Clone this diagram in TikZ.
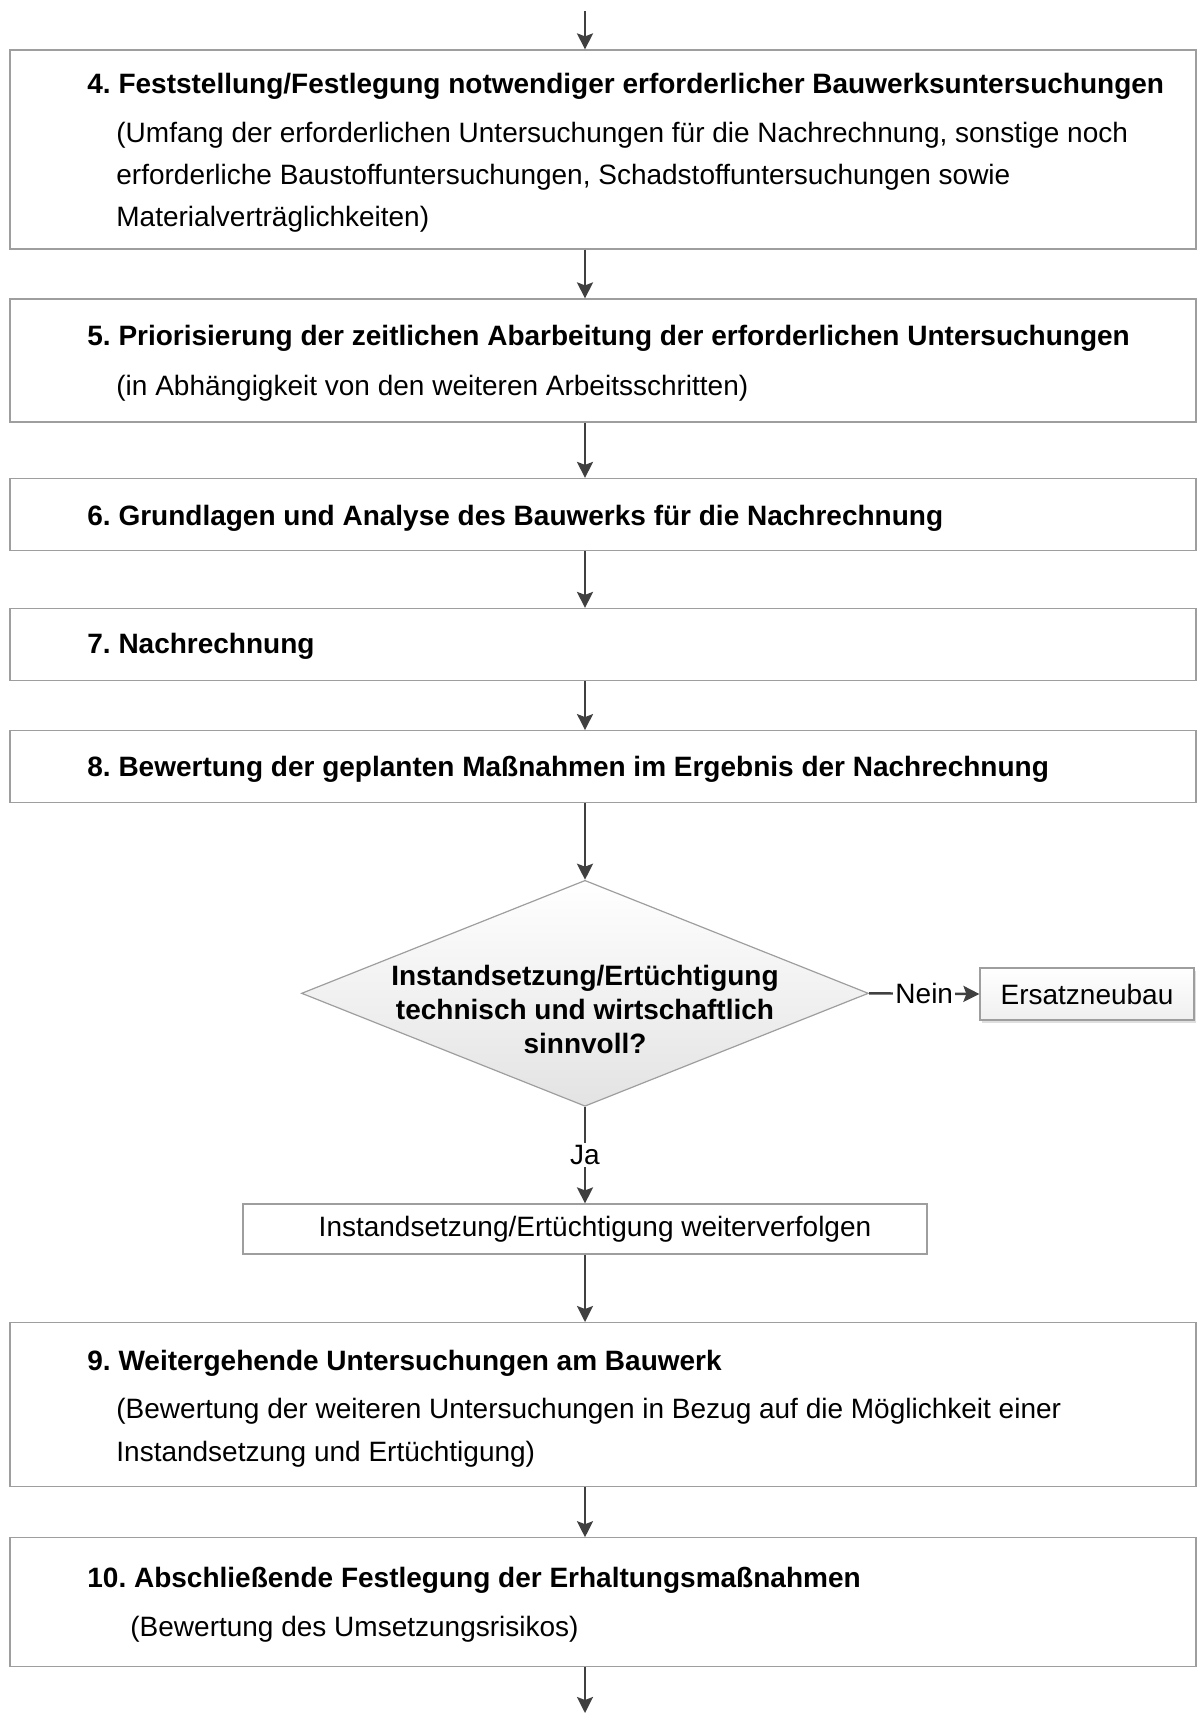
\documentclass[tikz,border=0pt]{standalone}
\usepackage{fontspec}
\setmainfont{Liberation Sans}
\frenchspacing
\usetikzlibrary{arrows.meta,shapes.geometric,shadows}
\definecolor{linegray}{rgb}{0.25,0.25,0.25}
\definecolor{boxgray}{rgb}{0.62,0.62,0.62}
\definecolor{diagray}{rgb}{0.89,0.89,0.89}

\begin{document}
\begin{tikzpicture}[x=0.5pt,y=-0.5pt,
    stepbox/.style={rectangle,draw=boxgray,line width=0.6pt,minimum width=593pt,inner sep=0pt},
    headtext/.style={anchor=base west,inner sep=0pt,font=\fontsize{14}{17}\selectfont\bfseries},
    subtext/.style={anchor=base west,inner sep=0pt,font=\fontsize{14}{17}\selectfont},
    decision/.style={diamond,draw=boxgray,line width=0.6pt,top color=white,bottom color=diagray,
      minimum width=283.5pt,minimum height=113pt,inner sep=0pt},
    endbox/.style={rectangle,draw=boxgray,line width=0.6pt,top color=white,bottom color=gray!12,
      minimum width=107pt,minimum height=26pt,inner sep=0pt,font=\fontsize{14}{17}\selectfont,
      drop shadow={opacity=0.25,shadow xshift=1pt,shadow yshift=-1.5pt}},
    lbl/.style={fill=white,inner sep=1pt,font=\fontsize{14}{17}\selectfont},
    flow/.style={draw=linegray,line width=1.2pt,-{Stealth[length=8pt,width=8pt,inset=1.5pt]}}]
\useasboundingbox (0,0) rectangle (1196,1713);

\coordinate (top) at (585,11);
\coordinate (bottom) at (585,1713);

\node[stepbox,minimum height=99.5pt] (b4) at (603,149.5) {};
\node[headtext] (t4) at (87,93) {4. Feststellung/Festlegung notwendiger erforderlicher Bauwerksuntersuchungen};
\node[subtext] (s4a) at (116,142) {(Umfang der erforderlichen Untersuchungen für die Nachrechnung, sonstige noch};
\node[subtext] (s4b) at (116,184) {erforderliche Baustoffuntersuchungen, Schadstoffuntersuchungen sowie};
\node[subtext] (s4c) at (116,226) {Materialverträglichkeiten)};

\node[stepbox,minimum height=61.5pt] (b5) at (603,360.5) {};
\node[headtext] (t5) at (87,345) {5. Priorisierung der zeitlichen Abarbeitung der erforderlichen Untersuchungen};
\node[subtext] (s5) at (116,395) {(in Abhängigkeit von den weiteren Arbeitsschritten)};

\node[stepbox,minimum height=36pt] (b6) at (603,514.5) {};
\node[headtext] (t6) at (87,525) {6. Grundlagen und Analyse des Bauwerks für die Nachrechnung};

\node[stepbox,minimum height=36pt] (b7) at (603,644.5) {};
\node[headtext] (t7) at (87,653) {7. Nachrechnung};

\node[stepbox,minimum height=36pt] (b8) at (603,766.7) {};
\node[headtext] (t8) at (87,776) {8. Bewertung der geplanten Maßnahmen im Ergebnis der Nachrechnung};

\node[decision] (dec) at (585,993.3) {};
\node[align=center,inner sep=0pt,font=\fontsize{14}{17}\selectfont\bfseries] (dectext) at (585,1009)
  {Instandsetzung/Ertüchtigung\\technisch und wirtschaftlich\\sinnvoll?};

\node[endbox] (ers) at (1087,994) {Ersatzneubau};

\node[stepbox,minimum width=342pt,minimum height=25pt,font=\fontsize{14}{17}\selectfont] (weiter) at (585,1229)
  {\hspace*{10pt}Instandsetzung/Ertüchtigung weiterverfolgen};

\node[stepbox,minimum height=82pt] (b9) at (603,1404.6) {};
\node[headtext] (t9) at (87,1370) {9. Weitergehende Untersuchungen am Bauwerk};
\node[subtext] (s9a) at (116,1418) {(Bewertung der weiteren Untersuchungen in Bezug auf die Möglichkeit einer};
\node[subtext] (s9b) at (116,1461) {Instandsetzung und Ertüchtigung)};

\node[stepbox,minimum height=64.5pt] (b10) at (603,1602.3) {};
\node[headtext] (t10) at (87,1587) {10. Abschließende Festlegung der Erhaltungsmaßnahmen};
\node[subtext] (s10) at (130,1636) {(Bewertung des Umsetzungsrisikos)};

\draw[flow] (top) -- (top |- b4.north);
\draw[flow] (b4.south -| top) -- (b5.north -| top);
\draw[flow] (b5.south -| top) -- (b6.north -| top);
\draw[flow] (b6.south -| top) -- (b7.north -| top);
\draw[flow] (b7.south -| top) -- (b8.north -| top);
\draw[flow] (b8.south -| top) -- (dec.north);
\draw[flow] (dec.east) -- node[lbl] (nein) {Nein} (ers.west);
\draw[flow] (dec.south) -- node[lbl] (ja) {Ja} (weiter.north);
\draw[flow] (weiter.south) -- (b9.north -| top);
\draw[flow] (b9.south -| top) -- (b10.north -| top);
\draw[flow] (b10.south -| top) -- (bottom);

\end{tikzpicture}
\end{document}
